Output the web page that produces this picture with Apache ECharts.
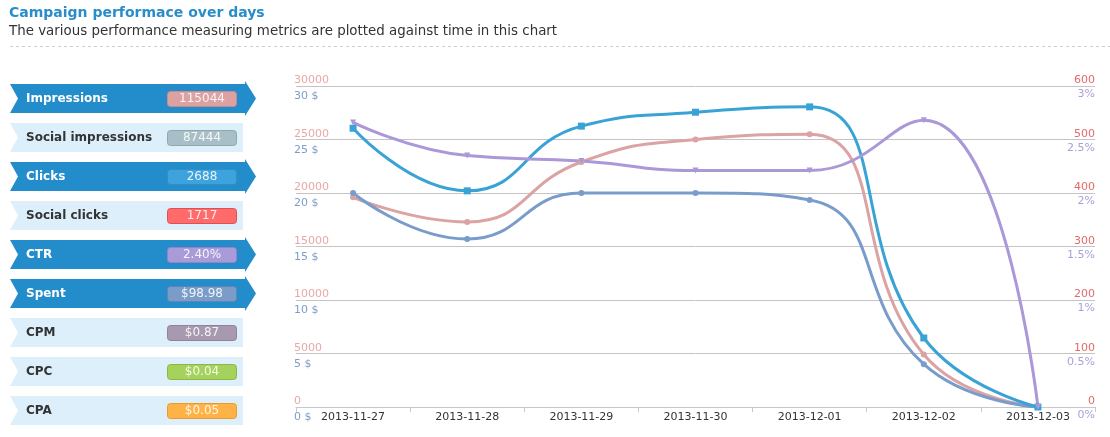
<!DOCTYPE html>
<html>
<head>
<meta charset="utf-8">
<script src="https://cdn.jsdelivr.net/npm/echarts@6/dist/echarts.min.js"></script>
<style>
  html, body { margin: 0; padding: 0; background: #fff; }
  #chart { width: 1110px; height: 437px; }
</style>
</head>
<body>
<div id="chart"></div>
<script>
// ---- Data ----
const categories = ['2013-11-27', '2013-11-28', '2013-11-29', '2013-11-30', '2013-12-01', '2013-12-02', '2013-12-03'];
const impressions = [19600, 17300, 22900, 25000, 25500, 4900, 0];
const clicks = [521, 404, 525, 551, 561, 129, 0];
const spent = [20.0, 15.7, 20.0, 20.0, 19.35, 4.0, 0];
const ctr = [2.66, 2.35, 2.30, 2.21, 2.21, 2.68, 0];

const metricNames = ['Impressions', 'Social impressions', 'Clicks', 'Social clicks', 'CTR', 'Spent', 'CPM', 'CPC', 'CPA'];
const metricValues = ['115044', '87444', '2688', '1717', '2.40%', '$98.98', '$0.87', '$0.04', '$0.05'];
const metricActive = [true, false, true, false, true, true, false, false, false];

const titleText = 'Campaign performace over days';
const subtitleText = 'The various performance measuring metrics are plotted against time in this chart';

// ---- Styles ----
const badgeColors = ['#dca2a2', '#a9bfc8', '#3ea3dc', '#ff6a6a', '#a99bd8', '#7a9cc8', '#a898b0', '#a5d15d', '#ffb347'];
const badgeBorders = ['#c98c8c', '#8fa7b1', '#2f8fc6', '#e05050', '#9483c8', '#6385b3', '#93819c', '#8ab842', '#e89b2c'];
const FONT = '"DejaVu Sans", Verdana, sans-serif';

const graphics = [
  { type: 'text', left: 9, top: 6, style: { text: titleText, font: 'bold 14px ' + FONT, fill: '#2a8dca' } },
  { type: 'text', left: 9, top: 25, style: { text: subtitleText, font: '13.4px ' + FONT, fill: '#333' } },
  { type: 'line', shape: { x1: 10, y1: 46.5, x2: 1110, y2: 46.5 }, style: { stroke: '#cfcfcf', lineWidth: 1, lineDash: [3, 3] } }
];

metricNames.forEach((name, i) => {
  const t = 84 + i * 39;
  const b = t + 29;
  const m = (t + b) / 2;
  let pts;
  if (metricActive[i]) {
    pts = [[10, t], [245, t], [245, t - 3], [256, m], [245, b + 3], [245, b], [10, b], [18, m]];
  } else {
    pts = [[10, t], [243, t], [243, b], [10, b], [18, m]];
  }
  graphics.push({
    type: 'polygon', shape: { points: pts },
    style: { fill: metricActive[i] ? '#238ccb' : '#ddeffb' }
  });
  graphics.push({
    type: 'text', x: 26, y: m,
    style: { text: name, font: 'bold 12px ' + FONT, fill: metricActive[i] ? '#fff' : '#333', verticalAlign: 'middle' }
  });
  graphics.push({
    type: 'rect', shape: { x: 167.5, y: t + 7.5, width: 69, height: 15, r: 3 },
    style: { fill: badgeColors[i], stroke: badgeBorders[i], lineWidth: 1 }
  });
  graphics.push({
    type: 'text', x: 202, y: m + 0.5,
    style: { text: metricValues[i], font: '12px ' + FONT, fill: 'rgba(255,255,255,0.88)', align: 'center', verticalAlign: 'middle' }
  });
});

const chart = echarts.init(document.getElementById('chart'), null, { renderer: 'canvas' });

function yAxisBase(opts) {
  return Object.assign({
    type: 'value',
    axisLine: { show: false },
    axisTick: { show: false },
    splitLine: { show: false }
  }, opts);
}

const SMOOTH = 0.5;

chart.setOption({
  animation: false,
  textStyle: { fontFamily: FONT },
  grid: { left: 296, right: 15, top: 86, bottom: 30, containLabel: false },
  xAxis: {
    type: 'category',
    data: categories,
    boundaryGap: true,
    axisLine: { lineStyle: { color: '#c8c8c8' } },
    axisTick: { show: true, length: 5, lineStyle: { color: '#c8c8c8' } },
    axisLabel: { color: '#333', fontSize: 11, margin: 5, fontFamily: FONT }
  },
  yAxis: [
    yAxisBase({
      position: 'left', min: 0, max: 30000, interval: 5000,
      splitLine: { show: true, lineStyle: { color: '#c4c4c4' } },
      axisLabel: { inside: true, margin: -2, verticalAlign: 'bottom', color: '#e8a8a8', fontSize: 11, fontFamily: FONT, padding: [0, 0, 0, 0], formatter: v => String(v) }
    }),
    yAxisBase({
      position: 'left', min: 0, max: 30, interval: 5,
      axisLabel: { inside: true, margin: -2, verticalAlign: 'top', color: '#7d9dc9', fontSize: 11, fontFamily: FONT, padding: [5, 0, 0, 0], formatter: '{value} $' }
    }),
    yAxisBase({
      position: 'right', min: 0, max: 600, interval: 100,
      axisLabel: { inside: true, margin: 0, verticalAlign: 'bottom', color: '#e46a6a', fontSize: 11, fontFamily: FONT, padding: [0, 0, 0, 0], formatter: v => String(v) }
    }),
    yAxisBase({
      position: 'right', min: 0, max: 3, interval: 0.5,
      axisLabel: { inside: true, margin: 0, verticalAlign: 'top', color: '#ab9ed9', fontSize: 11, fontFamily: FONT, padding: [3, 0, 0, 0], formatter: '{value}%' }
    })
  ],
  series: [
    {
      name: 'Impressions', type: 'line', yAxisIndex: 0, data: impressions, smooth: SMOOTH,
      symbol: 'circle', symbolSize: 6, showAllSymbol: true,
      lineStyle: { color: '#dba3a3', width: 3 }, itemStyle: { color: '#dba3a3' }
    },
    {
      name: 'Spent', type: 'line', yAxisIndex: 1, data: spent, smooth: SMOOTH,
      symbol: 'circle', symbolSize: 6,
      lineStyle: { color: '#7a9ccb', width: 3 }, itemStyle: { color: '#7a9ccb' }
    },
    {
      name: 'Clicks', type: 'line', yAxisIndex: 2, data: clicks, smooth: SMOOTH,
      symbol: 'rect', symbolSize: 7,
      lineStyle: { color: '#3aa3d6', width: 3 }, itemStyle: { color: '#3aa3d6' }
    },
    {
      name: 'CTR', type: 'line', yAxisIndex: 3, data: ctr, smooth: SMOOTH,
      symbol: 'triangle', symbolRotate: 180, symbolSize: 6,
      lineStyle: { color: '#aa98d8', width: 3 }, itemStyle: { color: '#aa98d8' }
    }
  ],
  graphic: graphics
});
</script>
</body>
</html>
